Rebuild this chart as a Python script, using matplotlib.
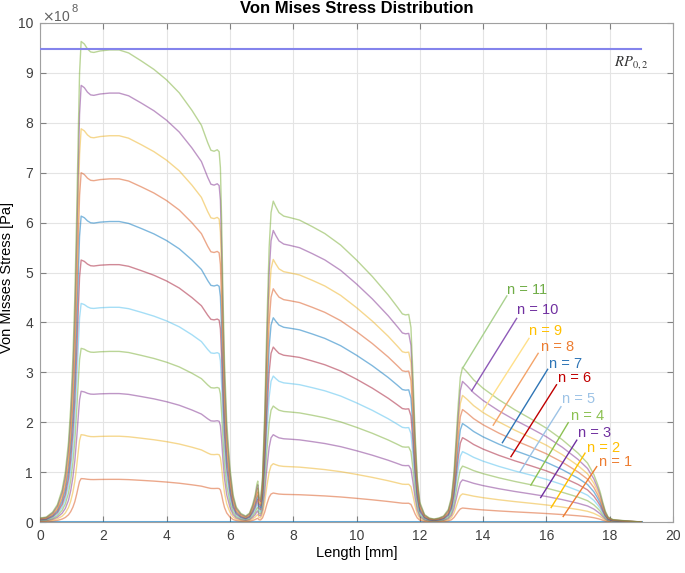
import matplotlib.pyplot as plt

plt.rcParams['font.family'] = ['Liberation Sans', 'DejaVu Sans']

# top curve (n = 11), stress in 1e8 Pa
length_mm = [0.0, 0.2, 0.4, 0.55, 0.7, 0.8, 0.9, 0.97, 1.04, 1.1, 1.16, 1.21, 1.25, 1.3,
             1.4, 1.5, 1.6, 1.7, 1.9, 2.2, 2.5, 2.8, 3.2, 3.6, 4.0, 4.4, 4.8, 5.1, 5.3,
             5.4, 5.5, 5.6, 5.66, 5.7, 5.74, 5.78, 5.83, 5.9, 6.0, 6.1, 6.2, 6.35, 6.5,
             6.62, 6.72, 6.8, 6.85, 6.88, 6.92, 6.97, 7.03, 7.1, 7.17, 7.24, 7.3, 7.37,
             7.45, 7.55, 7.7, 7.9, 8.2, 8.6, 9.0, 9.5, 10.0, 10.5, 11.0, 11.3, 11.45,
             11.55, 11.65, 11.72, 11.78, 11.85, 11.92, 12.0, 12.15, 12.3, 12.45, 12.6,
             12.75, 12.9, 13.0, 13.08, 13.15, 13.22, 13.28, 13.35, 13.5, 13.7, 14.0,
             14.5, 15.0, 15.5, 16.0, 16.5, 17.0, 17.3, 17.5, 17.62, 17.7, 17.78, 17.86,
             17.95, 18.1, 18.4, 18.7, 19.0]
stress_top = [0.08, 0.1, 0.2, 0.35, 0.65, 1.0, 1.6, 2.3, 3.3, 4.5, 6.2, 7.8, 9.0, 9.63,
              9.58, 9.48, 9.42, 9.41, 9.44, 9.46, 9.46, 9.4, 9.24, 9.07, 8.86, 8.6, 8.25,
              7.95, 7.6, 7.45, 7.43, 7.46, 7.42, 7.1, 6.0, 4.6, 3.2, 2.0, 1.1, 0.55, 0.3,
              0.17, 0.12, 0.18, 0.35, 0.55, 0.75, 0.82, 0.5, 0.45, 0.9, 2.2, 4.0, 5.5,
              6.2, 6.43, 6.32, 6.2, 6.13, 6.1, 6.05, 5.92, 5.78, 5.55, 5.25, 4.92, 4.55,
              4.3, 4.17, 4.15, 4.16, 3.9, 3.0, 1.8, 0.9, 0.4, 0.15, 0.08, 0.06, 0.08,
              0.12, 0.25, 0.5, 1.0, 1.7, 2.4, 2.9, 3.1, 3.0, 2.85, 2.68, 2.45, 2.25,
              2.07, 1.88, 1.65, 1.38, 1.18, 0.95, 0.75, 0.6, 0.4, 0.22, 0.1, 0.05, 0.03,
              0.015, 0.0]

# peak of first section for every n (1e8 Pa)
n_values = [1, 2, 3, 4, 5, 6, 7, 8, 9, 10, 11]
peaks = [0.87, 1.75, 2.62, 3.48, 4.38, 5.25, 6.13, 7.00, 7.88, 8.75, 9.63]

rp02 = 9.48

matlab_colors = ['#0072BD', '#D95319', '#EDB120', '#7E2F8E', '#77AC30', '#4DBEEE', '#A2142F']
label_colors = ['#ED7D31', '#FFC000', '#7030A0', '#8CC152', '#9DC3E6', '#C00000',
                '#2E75B6', '#ED7D31', '#FFC000', '#7030A0', '#70AD47']
leader_colors = ['#ED7D31', '#FFC000', '#7030A0', '#8CC152', '#9DC3E6', '#C00000',
                 '#2E75B6', '#F4A46A', '#FFE08A', '#8E5AB8', '#A9D18E']

# label text position and where the leader line touches the curve
label_xy = [(17.66, 1.2), (17.27, 1.48), (17.01, 1.78), (16.77, 2.13), (16.48, 2.46),
            (16.38, 2.88), (16.09, 3.17), (15.82, 3.5), (15.45, 3.83), (15.06, 4.25),
            (14.75, 4.65)]
leader_start = [(17.59, 1.11), (17.22, 1.38), (16.96, 1.64), (16.69, 1.99), (16.46, 2.31),
                (16.32, 2.75), (16.04, 3.06), (15.74, 3.38), (15.45, 3.68), (15.06, 4.08),
                (14.75, 4.53)]
leader_end = [(16.53, 0.11), (16.15, 0.29), (15.82, 0.49), (15.51, 0.74), (15.17, 1.01),
              (14.88, 1.31), (14.61, 1.59), (14.32, 1.94), (14.0, 2.24), (13.64, 2.63),
              (13.36, 3.09)]

fig = plt.figure(figsize=(6.85, 5.73), dpi=100)
ax = fig.add_axes([40 / 685, 51 / 573, 633 / 685, 499 / 573])

ax.plot([0, 19], [0, 0], color=matlab_colors[0], lw=2.2, alpha=0.6, zorder=3)
for i, n in enumerate(n_values):
    s = peaks[i] / peaks[-1]
    ax.plot(length_mm, [v * s for v in stress_top], color=matlab_colors[n % 7],
            lw=1.0, alpha=0.5, zorder=3)

ax.plot([0, 19], [rp02, rp02], color='#8484EC', lw=1.5, zorder=4)
ax.text(18.15, 9.2, r'$RP_{0,2}$', math_fontfamily='stix', fontsize=10.5,
        color='#333333', va='center', ha='left')

for i, n in enumerate(n_values):
    (x0, y0), (x1, y1) = leader_start[i], leader_end[i]
    ax.plot([x0, x1], [y0, y1], color=leader_colors[i], lw=1.0, zorder=5)
    ax.text(label_xy[i][0], label_xy[i][1], f'n = {n}', color=label_colors[i],
            fontsize=10.5, ha='left', va='center', zorder=6)

ax.set_xlim(0, 20)
ax.set_ylim(0, 10)
ax.set_xticks(range(0, 21, 2))
ax.set_yticks(range(0, 11))
ax.grid(True, color='#E4E4E4', lw=0.8)
ax.set_axisbelow(True)
ax.tick_params(direction='in', top=True, right=True, length=4, width=0.8,
               colors='#808080', labelcolor='#404040', labelsize=10, pad=5)
for sp in ax.spines.values():
    sp.set_color('#A0A0A0')
    sp.set_linewidth(0.8)

ax.text(0.003, 1.004, r'$\times$10', transform=ax.transAxes, fontsize=10,
        color='#606060', ha='left', va='baseline')
ax.text(0.049, 1.022, '8', transform=ax.transAxes, fontsize=8,
        color='#606060', ha='left', va='baseline')

ax.set_title('Von Mises Stress Distribution', fontsize=12, fontweight='bold', pad=7)
ax.set_xlabel('Length [mm]', fontsize=10.5, labelpad=2)
ax.set_ylabel('Von Misses Stress [Pa]', fontsize=10.5)
ax.yaxis.set_label_coords(-0.041, 0.49)

fig.savefig('out.png', dpi=100)
